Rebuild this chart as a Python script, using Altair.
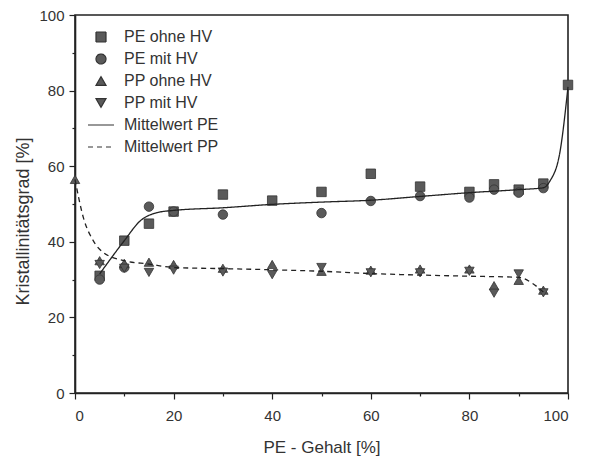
import altair as alt
import pandas as pd

FONT = "Liberation Sans"

series_all = ["PE ohne HV", "PE mit HV", "PP ohne HV", "PP mit HV", "Mittelwert PE", "Mittelwert PP"]

# Measured points
pe_ohne_x = [5, 10, 15, 20, 30, 40, 50, 60, 70, 80, 85, 90, 95, 100]
pe_ohne_y = [31, 40.3, 44.8, 48, 52.5, 50.9, 53.2, 58, 54.6, 53.2, 55.2, 53.8, 55.4, 81.5]

pe_mit_x = [5, 10, 15, 20, 30, 50, 60, 70, 80, 85, 90, 95]
pe_mit_y = [30, 33.2, 49.3, 48, 47.2, 47.6, 50.8, 52.1, 51.7, 53.8, 53, 54.2]

pp_ohne_x = [0, 5, 10, 15, 20, 30, 40, 50, 60, 70, 80, 85, 90, 95]
pp_ohne_y = [56.5, 35, 34.3, 34.6, 34, 33, 34, 32.2, 32.5, 32.8, 32.8, 28.4, 29.8, 27.2]

pp_mit_x = [5, 10, 15, 20, 30, 40, 50, 60, 70, 80, 85, 90, 95]
pp_mit_y = [34, 33, 31.9, 32.5, 32, 31.3, 33.2, 31.8, 31.8, 32.2, 26.4, 31.5, 26.5]

# Mean curves
mw_pe_x = [5, 10, 13.2, 16.6, 20, 30, 40, 50, 60, 70, 80, 90, 95, 96.3, 98.4, 100]
mw_pe_y = [31.5, 40.3, 45.5, 47.7, 48.3, 49, 49.9, 50.5, 51, 52, 53, 53.8, 54.3, 56, 64, 81]

mw_pp_x = [0, 1.7, 3.7, 5.7, 10, 15, 20, 30, 40, 50, 60, 70, 80, 90, 92.9, 95]
mw_pp_y = [56.5, 46.4, 40.3, 37.2, 35, 34.1, 33.2, 32.9, 32.6, 32.2, 31.6, 31.2, 30.9, 30.6, 28.9, 26.7]

rows = []
for name, xs, ys in [("PE ohne HV", pe_ohne_x, pe_ohne_y), ("PE mit HV", pe_mit_x, pe_mit_y),
                     ("PP ohne HV", pp_ohne_x, pp_ohne_y), ("PP mit HV", pp_mit_x, pp_mit_y)]:
    for a, b in zip(xs, ys):
        rows.append({"x": a, "y": b, "series": name})
points = pd.DataFrame(rows)

lrows = []
for name, xs, ys in [("Mittelwert PE", mw_pe_x, mw_pe_y), ("Mittelwert PP", mw_pp_x, mw_pp_y)]:
    for a, b in zip(xs, ys):
        lrows.append({"x": a, "y": b, "series": name})
lines = pd.DataFrame(lrows)

line_sym = "M-2.6,0L2.6,0"
shapes = ["square", "circle", "triangle-up", "triangle-down", line_sym, line_sym]
dashes = [[1, 0], [1, 0], [1, 0], [1, 0], [1, 0], [5, 4]]

tick_cond = {"condition": {"test": "datum.value % 20 === 0", "value": 6}, "value": 3}

x_enc = alt.X("x:Q", scale=alt.Scale(domain=[0, 100], nice=False),
              axis=alt.Axis(values=list(range(0, 101, 10)), title="PE - Gehalt [%]",
                            labelExpr="datum.value % 20 === 0 ? datum.label : ''",
                            tickSize=tick_cond, grid=False, labelPadding=9,
                            titleY=46, titleBaseline="top", titleFontSize=17))
y_enc = alt.Y("y:Q", scale=alt.Scale(domain=[0, 100], nice=False),
              axis=alt.Axis(values=list(range(0, 101, 10)), title="Kristallinitätsgrad [%]",
                            labelExpr="datum.value % 20 === 0 ? datum.label : ''",
                            tickSize=tick_cond, grid=False, labelPadding=5,
                            titleX=-52, titleY=206, titleFontSize=18,
                            titleBaseline="middle", titleAlign="center"))

legend = alt.Legend(title=None, orient="none", legendX=18, legendY=14, padding=0,
                    labelFont=FONT, labelFontSize=16, labelColor="#333", labelOffset=15,
                    symbolSize=100, rowPadding=6, symbolStrokeWidth=1.2, symbolOpacity=1)

pts = alt.Chart(points).mark_point(filled=False, size=90, color="#333", fill="#5a5a5a",
                                   strokeWidth=0.8, opacity=1).encode(
    x=x_enc, y=y_enc,
    shape=alt.Shape("series:N", scale=alt.Scale(domain=series_all, range=shapes), legend=legend),
)

lns = alt.Chart(lines).mark_line(color="#222", strokeWidth=1.3, interpolate="monotone").encode(
    x=x_enc, y=y_enc,
    strokeDash=alt.StrokeDash("series:N", scale=alt.Scale(domain=series_all, range=dashes), legend=legend),
)

chart = alt.layer(pts, lns).properties(
    width=493, height=378,
    autosize=alt.AutoSizeParams(type="none"),
    padding={"left": 67, "top": 7, "right": 14, "bottom": 68},
    background="white",
).configure_view(stroke="#222", strokeWidth=1.6).configure_axis(
    labelFont=FONT, labelFontSize=15, labelColor="#333", titleFont=FONT,
    titleFontWeight="normal", titleColor="#333", domainColor="#222", domainWidth=1.6,
    tickColor="#222", tickWidth=1.2,
)

chart.save("out.html", embed_options={"renderer": "svg", "actions": False})
